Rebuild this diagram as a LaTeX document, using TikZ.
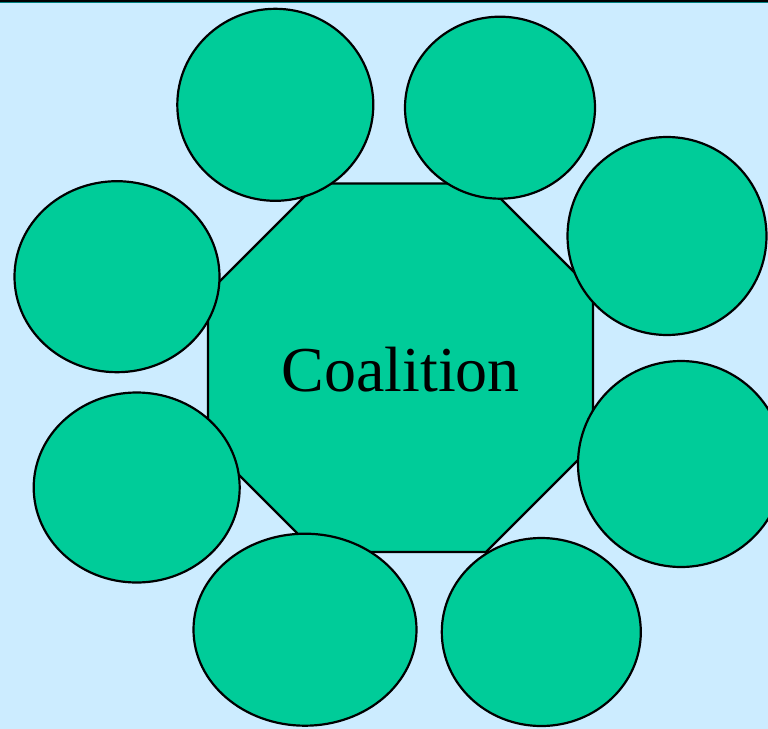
\documentclass[tikz,border=0pt]{standalone}
\usepackage{fontspec}
\setmainfont{Liberation Serif}
\usepackage{xcolor}
\usepackage{tikz}
\usetikzlibrary{shapes.geometric}

\definecolor{sky}{HTML}{CCECFF}
\definecolor{sea}{HTML}{00CC99}

\begin{document}
\begin{tikzpicture}[x=1pt, y=-1pt,
  blob/.style={ellipse, draw, fill=sea, line width=2.2pt, inner sep=0pt},
  oct/.style={draw, fill=sea, line width=2.2pt, line join=miter}
]
\useasboundingbox (0,0) rectangle (768,728);
\clip (-3,-3) rectangle (771,731);
\fill[sky] (-3,-3) rectangle (771,731);
\fill[black] (-3,-3) rectangle (771,2.4);
\fill[teal] (-3,2.4) rectangle (771,3.4);
% the coalition in the middle
\draw[oct] (317.5,183.5) -- (485.5,183.5) -- (593,291) -- (593,445)
  -- (486,552) -- (316,552) -- (208,444) -- (208,293) -- cycle;
\node[font=\fontsize{64}{70}\selectfont, anchor=base, inner sep=0pt] (c) at (400.8,391.7) {Coalition};
% members round it
\node[blob, minimum width=196pt, minimum height=192pt] (m1) at (275.3,104.8) {};
\node[blob, minimum width=190pt, minimum height=182pt] (m2) at (500,107.7) {};
\node[blob, minimum width=199pt, minimum height=198pt] (m3) at (667,236) {};
\node[blob, minimum width=206pt, minimum height=206pt] (m4) at (681,464) {};
\node[blob, minimum width=199pt, minimum height=188pt] (m5) at (541.3,632) {};
\node[blob, minimum width=223pt, minimum height=192pt] (m6) at (305,629.7) {};
\node[blob, minimum width=206pt, minimum height=190pt] (m7) at (136.7,487.5) {};
\node[blob, minimum width=205pt, minimum height=191pt] (m8) at (117,276.7) {};
\end{tikzpicture}
\end{document}
